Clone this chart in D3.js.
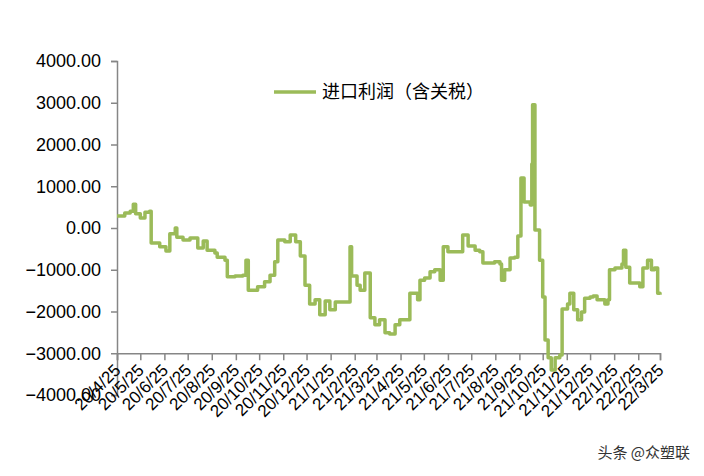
<!DOCTYPE html>
<html><head><meta charset="utf-8">
<script src="https://cdn.jsdelivr.net/npm/d3@7"></script>
<style>body{margin:0;background:#fff}svg{font-family:Calibri,"Liberation Sans","Noto Sans CJK SC",sans-serif}</style>
</head><body><svg id="c" width="704" height="476"></svg>
<script>
const startDate = "2020-04-25";
const dayOffsets = [0,10,17,21,24,30,36,42,44,55,63,68,75,77,85,94,104,111,116,126,129,139,142,152,162,166,169,181,190,197,203,207,216,223,230,236,242,248,255,261,268,274,281,293,300,302,309,313,319,326,332,338,345,351,358,364,371,377,387,390,396,403,409,416,420,426,435,441,445,452,461,467,471,486,493,495,499,506,512,516,520,524,532,534,535,538,542,544,548,551,555,559,564,570,573,580,583,588,593,598,602,609,613,618,628,632,634,641,650,652,655,660,673,677,683,688,692,696,699];
const profit = [290,360,400,570,340,240,380,400,-360,-450,-550,-140,0,-220,-290,-240,-480,-310,-530,-600,-700,-770,-1170,-1150,-1130,-770,-1490,-1410,-1290,-1130,-810,-290,-330,-170,-330,-670,-1370,-1820,-1720,-2080,-1750,-1960,-1770,-1770,-450,-1150,-1370,-1490,-1080,-2150,-2320,-2200,-2510,-2540,-2320,-2200,-2200,-1560,-1720,-1250,-1200,-1050,-1000,-1250,-450,-570,-570,-570,-170,-430,-530,-570,-840,-810,-860,-1250,-1000,-720,-700,-190,1200,620,550,1530,2950,-50,-50,-770,-1650,-2680,-3110,-3400,-3110,-3040,-1940,-1820,-1560,-1960,-2200,-2010,-1680,-1650,-1630,-1720,-1820,-1720,-1000,-960,-860,-530,-940,-1320,-1410,-960,-770,-1000,-960,-1560,-1600];
const yTicks = [4000,3000,2000,1000,0,-1000,-2000,-3000,-4000];
const xTickLabels = ["20/4/25","20/5/25","20/6/25","20/7/25","20/8/25","20/9/25","20/10/25","20/11/25","20/12/25","21/1/25","21/2/25","21/3/25","21/4/25","21/5/25","21/6/25","21/7/25","21/8/25","21/9/25","21/10/25","21/11/25","21/12/25","22/1/25","22/2/25","22/3/25"];
const seriesName = "进口利润（含关税）";

const svg = d3.select("#c");
const parse = d3.timeParse("%Y-%m-%d");
const s0 = parse(startDate);
const data = dayOffsets.map((d,i)=>({t:d3.timeDay.offset(s0,d), v:profit[i]}));
const tickDates = xTickLabels.map(l=>{const [y,m,d]=l.split("/").map(Number);return new Date(2000+y,m-1,d);});
const x = d3.scaleTime().domain([tickDates[0], tickDates[tickDates.length-1]]).range([117,660]);
const y = d3.scaleLinear().domain([-4000,4000]).range([395,61]);
const grey="#868686";

const ya = svg.append("g").attr("transform","translate(117,0)")
  .call(d3.axisLeft(y).tickValues(yTicks).tickSize(6).tickFormat(d3.format(".2f")));
ya.select(".domain").attr("stroke",grey).attr("stroke-width",1.5);
ya.selectAll(".tick line").attr("stroke",grey).attr("stroke-width",1.5);
ya.selectAll("text").attr("font-size",18).attr("fill","#000").attr("x",-16);

const xa = svg.append("g").attr("transform",`translate(0,${y(-3000)})`)
  .call(d3.axisBottom(x).tickValues(tickDates).tickSize(7).tickFormat((d,i)=>xTickLabels[i]));
xa.select(".domain").attr("stroke",grey).attr("stroke-width",1.5);
xa.selectAll(".tick line").attr("stroke",grey).attr("stroke-width",1.5);
xa.selectAll("text").attr("font-size",17).attr("fill","#000")
  .attr("text-anchor","end").attr("dy","0.35em")
  .attr("transform",`translate(0,${y(-4000)-y(-3000)-28}) rotate(-45)`).attr("x",0).attr("y",0);

const line = d3.line().x(d=>x(d.t)).y(d=>y(d.v)).curve(d3.curveStepAfter);
svg.append("path").datum(data).attr("d",line).attr("fill","none")
  .attr("stroke","#9bbb59").attr("stroke-width",3.5).attr("stroke-linejoin","round");

svg.append("line").attr("x1",274).attr("x2",316).attr("y1",92).attr("y2",92).attr("stroke","#9bbb59").attr("stroke-width",3.5);
svg.append("text").attr("x",322).attr("y",98).attr("font-size",18).attr("font-family","Noto Sans CJK SC").attr("fill","#000").text(seriesName);

svg.append("text").attr("x",690).attr("y",458).attr("text-anchor","end").attr("font-size",15)
  .attr("font-family","Noto Sans CJK SC").attr("fill","#333").text("头条 @众塑联");
</script></body></html>
